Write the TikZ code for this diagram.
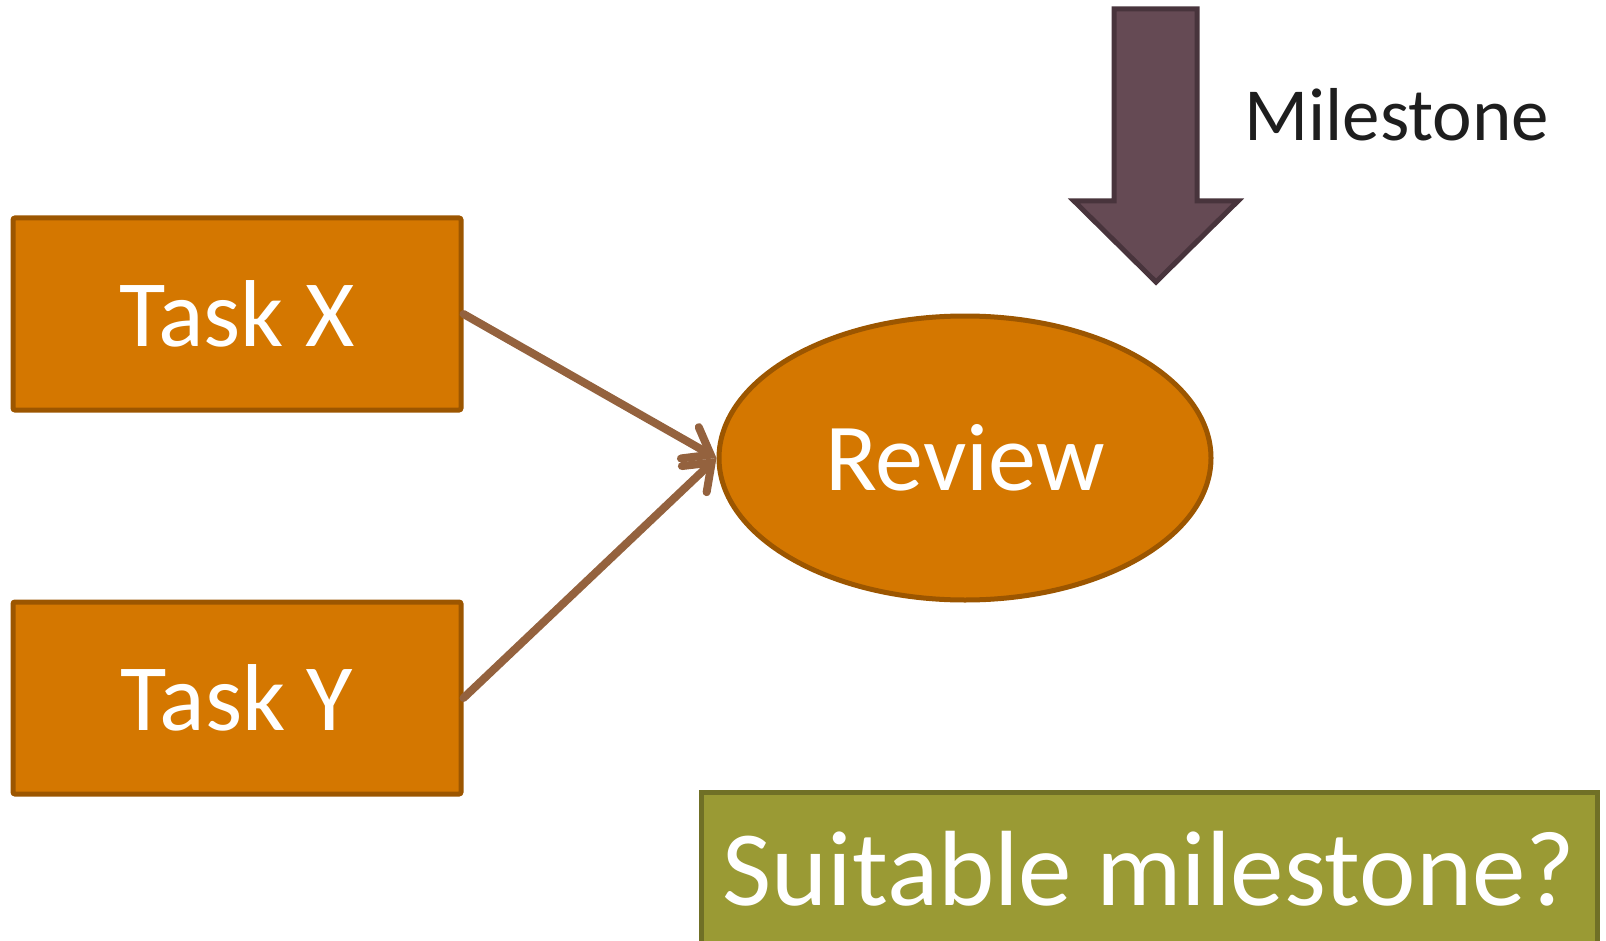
\documentclass[tikz,border=0pt]{standalone}
\usepackage{fontspec}
\setmainfont{Carlito}
\usetikzlibrary{shapes.geometric,arrows.meta,positioning}

\definecolor{taskfill}{RGB}{212,119,0}
\definecolor{taskline}{RGB}{156,86,0}
\definecolor{linkcol}{RGB}{148,98,62}
\definecolor{msfill}{RGB}{101,74,84}
\definecolor{msline}{RGB}{72,52,60}
\definecolor{qfill}{RGB}{154,154,52}
\definecolor{qline}{RGB}{112,112,38}

\tikzstyle{task} = [rectangle, rounded corners=2pt, minimum width=448pt, minimum height=192pt, text centered, draw=taskline, fill=taskfill, line width=5pt, text=white, font=\fontsize{95}{98}\selectfont]
\tikzstyle{review} = [ellipse, inner sep=0pt, minimum width=492pt, minimum height=284pt, draw=taskline, fill=taskfill, line width=5pt, text=white, font=\fontsize{96}{99}\selectfont]
\tikzstyle{question} = [rectangle, inner sep=0pt, minimum width=896pt, minimum height=154pt, draw=qline, fill=qfill, line width=5pt, text=white, font=\fontsize{107}{110}\selectfont]
\tikzstyle{link} = [line width=8pt, line cap=round, draw=linkcol, -{Straight Barb[length=24pt,width=36pt,line cap=round]}]

\begin{document}
\begin{tikzpicture}[x=1pt, y=1pt, node distance=384pt]
    \useasboundingbox (0,0) rectangle (1606,-941);
    \node (taskx) [task] at (237,-314) {Task X};
    \node (tasky) [task, below of=taskx] {Task Y};
    \node (review) [review] at (965,-458) {Review};
    \draw [link] (taskx.east) -- (review.west);
    \draw [link] (tasky.east) -- (review.west);
    % milestone marker
    \draw [draw=msline, fill=msfill, line width=5pt, line join=miter]
        (1114,-9) -- (1197,-9) -- (1197,-201) -- (1238,-201) -- (1156,-282)
        -- (1074,-201) -- (1114,-201) -- cycle;
    \node (mslabel) [anchor=base west, inner sep=0pt, text={rgb,255:red,30;green,30;blue,30}, font=\fontsize{75}{78}\selectfont] at (1244,-141) {Milestone};
    \node (suitable) [question] at (1149,-869) {Suitable milestone?};
\end{tikzpicture}
\end{document}
